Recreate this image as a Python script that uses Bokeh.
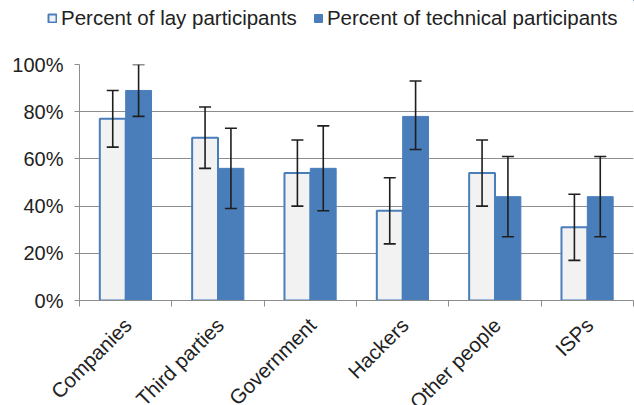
import numpy as np
from bokeh.plotting import figure
from bokeh.layouts import column
from bokeh.models import (ColumnDataSource, FixedTicker, Legend, LegendItem, Whisker,
                          TeeHead, Range1d)
from bokeh.core.properties import value
from bokeh.embed import file_html
from bokeh.resources import INLINE

categories = ["Companies", "Third parties", "Government", "Hackers", "Other people", "ISPs"]
lay = [77, 69, 54, 38, 54, 31]
lay_low = [65, 56, 40, 24, 40, 17]
lay_high = [89, 82, 68, 52, 68, 45]
tech = [89, 56, 56, 78, 44, 44]
tech_low = [78, 39, 38, 64, 27, 27]
tech_high = [100, 73, 74, 93, 61, 61]
y_ticks = [0, 20, 40, 60, 80, 100]
series_names = ["Percent of lay participants", "Percent of technical participants"]

FONT = "Liberation Sans"
TXT = "#222222"
BLUE = "#4a7ebb"
LIGHT = "#f2f2f2"
GRID = "#8c8c8c"
ERR = "#1e1e1e"

W = 634          # page width
LEFT = 79        # frame left edge of the chart
RPAD = 1
LEG_H = 48       # legend strip height
TOP = 16         # chart frame top offset inside main figure
FRAME_H = 236
BOT = 16
CAT_H = 405 - LEG_H - TOP - FRAME_H - BOT

n = len(categories)
centers = np.arange(n) + 0.5
off = 0.14
bw = 0.28
unit = (W - LEFT - RPAD) / n

lay_src = ColumnDataSource(dict(x=centers - off, top=lay, lo=lay_low, hi=lay_high))
tech_src = ColumnDataSource(dict(x=centers + off, top=tech, lo=tech_low, hi=tech_high))
cat_src = ColumnDataSource(dict(x=centers, y=np.zeros(n), text=categories))


def bare(fig):
    fig.outline_line_color = None
    fig.xgrid.grid_line_color = None
    fig.ygrid.grid_line_color = None
    fig.frame_align = False


# ---- legend strip (its bars sit outside its own ranges; only the legend shows) ----
lg = figure(width=W, height=LEG_H, output_backend="svg", toolbar_location=None,
            x_range=Range1d(-3, -2), y_range=Range1d(-3, -2),
            min_border=0, x_axis_location=None, y_axis_location=None)
bare(lg)
g1 = lg.vbar(x="x", top="top", width=bw, source=lay_src, fill_color=LIGHT,
             line_color=BLUE, line_width=2)
g2 = lg.vbar(x="x", top="top", width=bw, source=tech_src, fill_color=BLUE,
             line_color=BLUE, line_width=1)
legend = Legend(items=[LegendItem(label=series_names[0], renderers=[g1]),
                       LegendItem(label=series_names[1], renderers=[g2])],
                orientation="horizontal", location=(47, 18),
                label_text_font=FONT, label_text_font_size="20.5px", label_text_color=TXT,
                glyph_width=10, glyph_height=10, label_standoff=4, spacing=16,
                padding=0, margin=0, border_line_color=None, background_fill_alpha=0,
                label_height=20)
lg.add_layout(legend)

# ---- main chart ----
p = figure(width=W, height=TOP + FRAME_H + BOT, output_backend="svg", toolbar_location=None,
           x_range=Range1d(0, n), y_range=Range1d(y_ticks[0], y_ticks[-1]),
           min_border_left=LEFT, min_border_right=RPAD, min_border_top=TOP,
           min_border_bottom=BOT)
p.outline_line_color = None
p.frame_align = False

p.vbar(x="x", top="top", width=bw, source=lay_src, fill_color=LIGHT,
       line_color=BLUE, line_width=2)
p.vbar(x="x", top="top", width=bw, source=tech_src, fill_color=BLUE,
       line_color=BLUE, line_width=1)

for src in (lay_src, tech_src):
    w = Whisker(base="x", upper="hi", lower="lo", source=src, level="annotation",
                line_color=ERR, line_width=1.6,
                upper_head=TeeHead(size=12, line_color=ERR, line_width=1.6),
                lower_head=TeeHead(size=12, line_color=ERR, line_width=1.6))
    p.add_layout(w)

xa = p.xaxis[0]
xa.ticker = FixedTicker(ticks=[], minor_ticks=list(range(n + 1)))
xa.major_tick_line_color = None
xa.minor_tick_line_color = GRID
xa.minor_tick_out = 6
xa.minor_tick_in = 0
xa.axis_line_color = GRID

ya = p.yaxis[0]
ya.ticker = FixedTicker(ticks=y_ticks)
ya.major_label_overrides = {t: f"{t}%" for t in y_ticks}
ya.major_label_text_font = FONT
ya.major_label_text_font_size = "20px"
ya.major_label_text_color = TXT
ya.major_label_standoff = 11
ya.major_tick_out = 5
ya.major_tick_in = 0
ya.major_tick_line_color = GRID
ya.minor_tick_line_color = None
ya.axis_line_color = GRID

p.xgrid.grid_line_color = None
p.ygrid.grid_line_color = GRID
p.ygrid.grid_line_width = 1

# ---- category labels strip (same x scale as the chart) ----
cat = figure(width=W, height=CAT_H, output_backend="svg", toolbar_location=None,
             x_range=Range1d(-LEFT / unit, (W - LEFT) / unit), y_range=Range1d(-CAT_H, 0),
             min_border=0, x_axis_location=None, y_axis_location=None)
bare(cat)
cat.text(x="x", y="y", text="text", source=cat_src, angle=np.pi / 4,
         text_align="right", text_baseline="middle", x_offset=2, y_offset=5,
         text_font=value(FONT), text_font_size="20.5px", text_color=TXT)

layout = column(lg, p, cat, spacing=0)
open("out.html", "w").write(file_html(layout, INLINE))
